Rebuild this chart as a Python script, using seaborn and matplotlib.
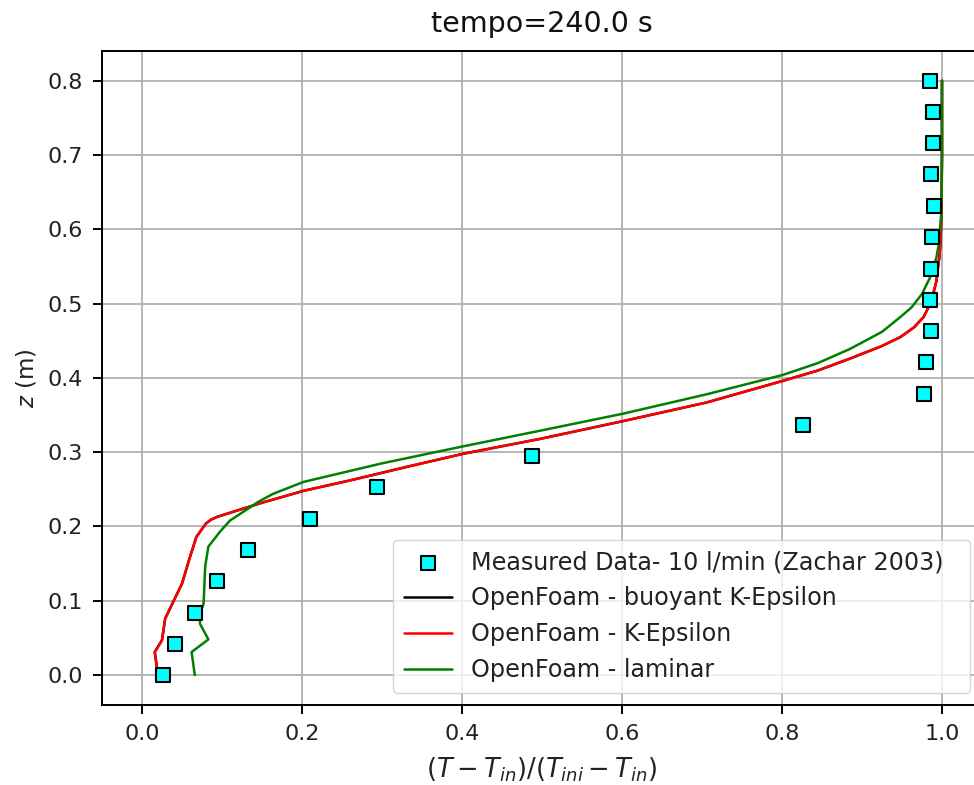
import numpy as np
import pandas as pd
import matplotlib
matplotlib.use("Agg")
import matplotlib.pyplot as plt
import seaborn as sns

# Measured data (Zachar 2003)
meas_x = [0.026, 0.041, 0.066, 0.094, 0.132, 0.210, 0.294, 0.487, 0.826, 0.977,
          0.980, 0.986, 0.985, 0.986, 0.987, 0.990, 0.986, 0.989, 0.989, 0.985]
meas_z = [0.000, 0.042, 0.084, 0.126, 0.168, 0.210, 0.253, 0.295, 0.337, 0.379,
          0.421, 0.463, 0.505, 0.547, 0.589, 0.632, 0.674, 0.716, 0.758, 0.800]

# OpenFoam - buoyant K-Epsilon
bke_x = [0.020, 0.016, 0.025, 0.029, 0.037, 0.050, 0.060, 0.068, 0.080, 0.086,
         0.094, 0.150, 0.202, 0.260, 0.330, 0.402, 0.498, 0.602, 0.706, 0.801,
         0.845, 0.885, 0.925, 0.948, 0.965, 0.977, 0.984, 0.989, 0.993, 0.995,
         0.997, 0.9985, 0.9995, 1.000, 1.000]
bke_z = [0.000, 0.031, 0.047, 0.076, 0.094, 0.123, 0.159, 0.186, 0.204, 0.209,
         0.213, 0.232, 0.248, 0.262, 0.280, 0.298, 0.318, 0.342, 0.367, 0.396,
         0.410, 0.426, 0.443, 0.455, 0.468, 0.482, 0.497, 0.513, 0.530, 0.549,
         0.565, 0.590, 0.630, 0.700, 0.800]

# OpenFoam - K-Epsilon
ke_x = [0.020, 0.016, 0.025, 0.029, 0.037, 0.050, 0.060, 0.068, 0.080, 0.086,
        0.094, 0.150, 0.202, 0.260, 0.330, 0.402, 0.498, 0.602, 0.706, 0.801,
        0.845, 0.885, 0.925, 0.948, 0.965, 0.977, 0.984, 0.989, 0.993, 0.995,
        0.997, 0.9985, 0.9995, 1.000, 1.000]
ke_z = [0.000, 0.031, 0.047, 0.076, 0.094, 0.123, 0.159, 0.186, 0.204, 0.209,
        0.213, 0.232, 0.248, 0.262, 0.280, 0.298, 0.318, 0.342, 0.367, 0.396,
        0.410, 0.426, 0.443, 0.455, 0.468, 0.482, 0.497, 0.513, 0.530, 0.549,
        0.565, 0.590, 0.630, 0.700, 0.800]

# OpenFoam - laminar
lam_x = [0.066, 0.062, 0.083, 0.0725, 0.0725, 0.077, 0.079, 0.083, 0.091, 0.0975,
         0.110, 0.127, 0.145, 0.164, 0.202, 0.300, 0.402, 0.498, 0.602, 0.706,
         0.801, 0.845, 0.885, 0.925, 0.948, 0.962, 0.975, 0.985, 0.993, 0.996,
         0.999, 1.000, 1.000]
lam_z = [0.000, 0.031, 0.048, 0.069, 0.083, 0.096, 0.146, 0.173, 0.184, 0.193,
         0.208, 0.220, 0.233, 0.244, 0.260, 0.285, 0.308, 0.329, 0.352, 0.378,
         0.404, 0.420, 0.439, 0.462, 0.482, 0.495, 0.513, 0.535, 0.562, 0.580,
         0.620, 0.700, 0.800]

sns.set_style("ticks")
plt.rcParams['font.family'] = ['DejaVu Sans']

fig = plt.figure(figsize=(9.74, 7.85), dpi=100)
# axes extends slightly past the right edge (reference is cropped there)
ax = fig.add_axes([0.1047, 0.1019, 0.9035, 0.8331])

sns.scatterplot(x=meas_x, y=meas_z, ax=ax, marker='s', s=105, color='cyan',
                edgecolor='black', linewidth=1.5, zorder=3,
                label='Measured Data- 10 l/min (Zachar 2003)')
sns.lineplot(x=bke_x, y=bke_z, ax=ax, sort=False, estimator=None, color='black',
             linewidth=1.8, label='OpenFoam - buoyant K-Epsilon')
sns.lineplot(x=ke_x, y=ke_z, ax=ax, sort=False, estimator=None, color='red',
             linewidth=1.8, label='OpenFoam - K-Epsilon')
sns.lineplot(x=lam_x, y=lam_z, ax=ax, sort=False, estimator=None, color='green',
             linewidth=1.8, label='OpenFoam - laminar')

ax.set_xlim(-0.05, 1.05)
ax.set_ylim(-0.0403, 0.84)
ax.set_xticks([0.0, 0.2, 0.4, 0.6, 0.8, 1.0])
ax.set_yticks([0.0, 0.1, 0.2, 0.3, 0.4, 0.5, 0.6, 0.7, 0.8])
ax.grid(True, color='#b0b0b0', linewidth=1.3)
for s in ax.spines.values():
    s.set_visible(True)
    s.set_color('black')
    s.set_linewidth(1.4)
ax.tick_params(labelsize=16, length=6.5, width=1.4, pad=7.5, colors='black')
for lbl in ax.get_xticklabels() + ax.get_yticklabels():
    lbl.set_color('#222222')

ax.set_title('tempo=240.0 s', fontsize=20.5, pad=14, color='#111111')
ax.set_xlabel(r'$(T-T_{in})/(T_{ini}-T_{in})$', fontsize=18.5, color='#222222',
              labelpad=8)
ax.set_ylabel(r'$z$ (m)', fontsize=16.5, color='#222222', labelpad=6)

leg = ax.legend(loc='lower left', bbox_to_anchor=(0.3307, 0.0184, 0.6557, 0.2),
                mode='expand', borderaxespad=0.0,
                fontsize=17.2, frameon=True, framealpha=0.8,
                handlelength=2.0, handletextpad=0.8, labelspacing=0.5,
                borderpad=0.45)
for t in leg.get_texts():
    t.set_color('#222222')

fig.savefig('out.png', dpi=100)
